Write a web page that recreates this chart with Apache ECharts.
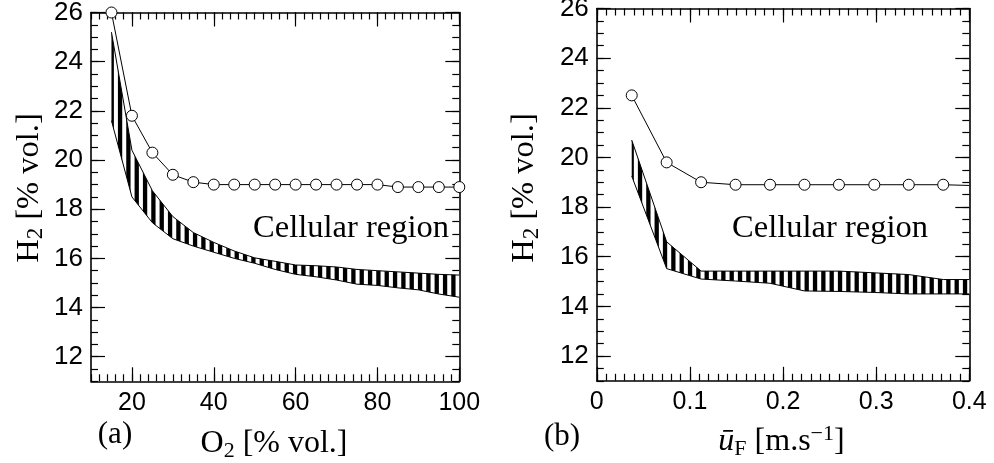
<!DOCTYPE html>
<html><head><meta charset="utf-8">
<script src="https://cdn.jsdelivr.net/npm/echarts@6/dist/echarts.min.js"></script>
<style>html,body{margin:0;padding:0;background:#fff}#c{width:994px;height:463px}</style>
</head><body><div id="c"></div>
<script>
// ---------- data ----------
const o2 = [15,20,25,30,35,40,45,50,55,60,65,70,75,80,85,90,95,100];
const h2CellA = [26.0,21.8,20.3,19.4,19.1,19.0,19.0,19.0,19.0,19.0,19.0,19.0,19.0,19.0,18.9,18.9,18.9,18.9];
const bandAUpper = [25.2,20.4,18.75,17.7,17.05,16.65,16.3,16.02,15.88,15.73,15.7,15.65,15.55,15.5,15.45,15.4,15.35,15.32];
const bandALower = [21.6,18.5,17.45,16.8,16.5,16.25,16.0,15.8,15.55,15.35,15.25,15.12,14.95,14.9,14.8,14.72,14.55,14.42];

const uF = [0.0375,0.075,0.112,0.149,0.186,0.223,0.26,0.298,0.335,0.372];
const h2CellB = [22.5,19.8,19.0,18.9,18.9,18.9,18.9,18.9,18.9,18.9];
const uFEnd = 0.4, h2CellBEnd = 18.87;
const uFBand = [0.0375,0.075,0.112,0.149,0.186,0.223,0.26,0.298,0.335,0.372,0.4];
const bandBUpper = [20.7,16.6,15.42,15.42,15.42,15.42,15.42,15.35,15.28,15.08,15.08];
const bandBLower = [19.25,15.52,15.1,15.02,14.93,14.62,14.6,14.56,14.5,14.5,14.5];

const yMajor = [12,14,16,18,20,22,24,26];
const xMajorA = [20,40,60,80,100];
const xMajorB = [0,0.1,0.2,0.3,0.4];

// ---------- styling helpers ----------
const SERIF = 'Liberation Serif';
const SANS = 'Liberation Sans';
function stripes(offset){
  const c = document.createElement('canvas'); c.width = 25; c.height = 4;
  const g = c.getContext('2d');
  g.fillStyle = '#fff'; g.fillRect(0,0,25,4);
  g.fillStyle = '#000';
  for (let k=0;k<3;k++){
    const cx = offset + k*25/3;
    for (const s of [-25,0,25]) g.fillRect(cx+s-2.15,0,4.3,4);
  }
  return {image:c, repeat:'repeat'};
}
const lineBlack = {color:'#000', width:1.6};
function axesFor(dim, gridIndex, min, max, majors, minorInt, posA, posB){
  const base = {type:'value', gridIndex, min, max, splitLine:{show:false}};
  const majorTick = {show:true, inside:true, length:14, customValues:majors, lineStyle:{color:'#000', width:1.2}};
  const minorTick = {show:true, inside:true, length:7, lineStyle:{color:'#000', width:1.2}};
  const lbl = {show:true, customValues:majors, color:'#000', fontFamily:SANS,
               fontSize: dim==='x' ? 25 : 26, margin: dim==='x' ? 9 : 8};
  return [
    Object.assign({}, base, {position:posA, axisLine:{show:true,onZero:false,lineStyle:lineBlack}, axisTick:majorTick, axisLabel:lbl}),
    Object.assign({}, base, {position:posB, axisLine:{show:true,onZero:false,lineStyle:lineBlack}, axisTick:majorTick, axisLabel:{show:false, customValues:majors}}),
    Object.assign({}, base, {position:posA, interval:minorInt, axisLine:{show:false,onZero:false}, axisTick:minorTick, axisLabel:{show:false}}),
    Object.assign({}, base, {position:posB, interval:minorInt, axisLine:{show:false,onZero:false}, axisTick:minorTick, axisLabel:{show:false}})
  ];
}
const xAxes = [].concat(
  axesFor('x',0,10,100,xMajorA,2,'bottom','top'),
  axesFor('x',1,0,0.4,xMajorB,0.01,'bottom','top'));
const yAxes = [].concat(
  axesFor('y',0,11,26,yMajor,0.5,'left','right'),
  axesFor('y',1,11,26,yMajor,0.5,'left','right'));

function zip(a,b){ return a.map((v,i)=>[v,b[i]]); }
function circleSeries(xi, yi, data){
  return {type:'line', xAxisIndex:xi, yAxisIndex:yi, data, clip:false, z:5,
    symbol:'circle', symbolSize:11, showSymbol:true,
    itemStyle:{color:'#fff', borderColor:'#000', borderWidth:1},
    lineStyle:{color:'#000', width:1}};
}
// band: data stored as [y, x] with encode so that the stacked dimension is y
function bandSeries(xi, yi, xs, lower, upper, stackName, pattern){
  return [
    {type:'line', xAxisIndex:xi, yAxisIndex:yi, stack:stackName, symbol:'none', z:3,
     encode:{x:1, y:0}, dimensions:['h','u'],
     data: xs.map((x,i)=>[lower[i], x]), lineStyle:{color:'#000', width:1}},
    {type:'line', xAxisIndex:xi, yAxisIndex:yi, stack:stackName, symbol:'none', z:3,
     encode:{x:1, y:0}, dimensions:['h','u'],
     data: xs.map((x,i)=>[upper[i]-lower[i], x]),
     lineStyle:{color:'#000', width:1}, areaStyle:{color:pattern, opacity:1}}
  ];
}

const cellB = zip(uF, h2CellB);
cellB.push({value:[uFEnd, h2CellBEnd], symbol:'none'});

const series = [].concat(
  bandSeries(0,0,o2,bandALower,bandAUpper,'A',stripes(3.4)),
  [circleSeries(0,0,zip(o2,h2CellA))],
  bandSeries(4,4,uFBand,bandBLower,bandBUpper,'B',stripes(6.7)),
  [circleSeries(4,4,cellB)]
);

function rt(fs){ return {
  n:{fontFamily:SERIF, fontSize:fs, fill:'#000'},
  i:{fontFamily:SERIF, fontSize:fs, fontStyle:'italic', fill:'#000'},
  s:{fontFamily:SERIF, fontSize:Math.round(fs*0.7), fill:'#000', padding:[14,0,0,0]},
  p:{fontFamily:SERIF, fontSize:Math.round(fs*0.7), fill:'#000', padding:[0,0,16,0]}
};}
function txt(x,y,text,fs,rot){
  return {type:'text', x, y, rotation: rot||0, z:100,
    style:{text, rich:rt(fs), font: fs+'px "'+SERIF+'"', fill:'#000',
      align:'center', verticalAlign:'middle', textAlign:'center', textVerticalAlign:'middle'}};
}
const graphics = [
  txt(29,188,'{n|H}{s|2}{n| [% vol.]}',32.5,Math.PI/2),
  txt(524.5,188,'{n|H}{s|2}{n| [% vol.]}',32.5,Math.PI/2),
  txt(274,444,'{n|O}{s|2}{n| [% vol.]}',32),
  txt(781.5,442,'{i|ū}{s|F}{n| [m.s}{p|−1}{n|]}',32),
  txt(115,435,'{n|(a)}',31),
  txt(562,437,'{n|(b)}',31),
  txt(351,228,'{n|Cellular region}',32.5),
  txt(830,228,'{n|Cellular region}',32.5)
];

const chart = echarts.init(document.getElementById('c'), null, {renderer:'canvas'});
chart.setOption({
  animation:false,
  backgroundColor:'#fff',
  grid:[
    {left:91, top:12.5, width:368.3, height:368.8, outerBoundsMode:'none', containLabel:false},
    {left:596.8, top:8.5, width:372.5, height:372.3, outerBoundsMode:'none', containLabel:false}
  ],
  xAxis:xAxes,
  yAxis:yAxes,
  series,
  graphic:graphics
});
</script></body></html>
